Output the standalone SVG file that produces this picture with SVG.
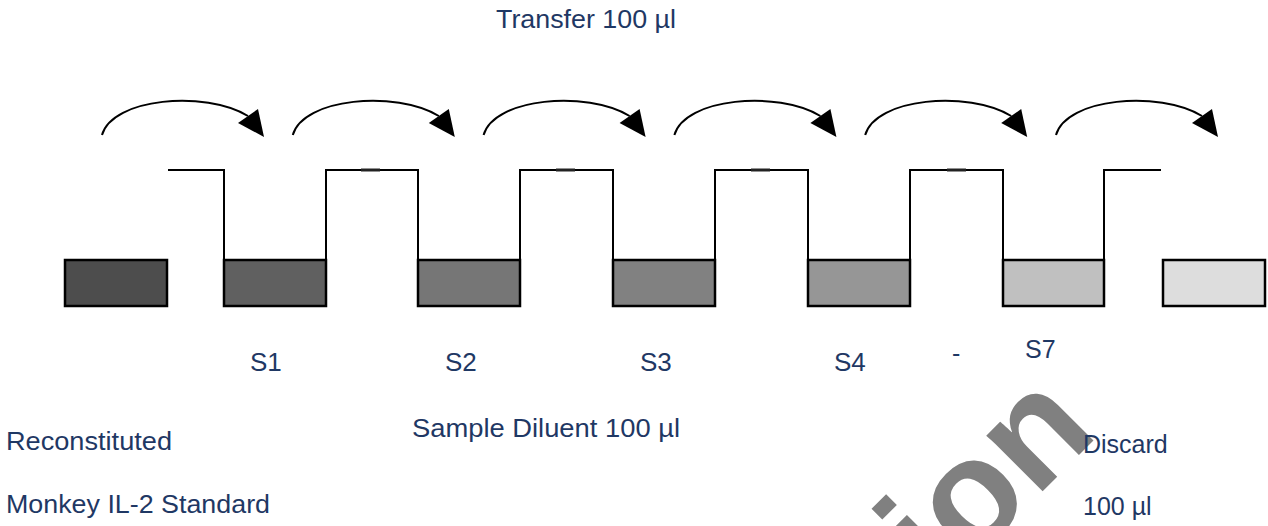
<svg xmlns="http://www.w3.org/2000/svg" xmlns:xlink="http://www.w3.org/1999/xlink" width="1268" height="526" viewBox="0 0 1268 526">
  <style>
    .lbl { font-family: "Liberation Sans", Arial, sans-serif; font-size: 25px; fill: #1f3864; }
    .wm { font-family: "Liberation Sans", Arial, sans-serif; font-size: 150px; font-weight: bold; fill: #808080; }
    .tube { stroke: #000; stroke-width: 2.5; }
    .step { fill: none; stroke: #000; stroke-width: 2; }
    .arc { fill: none; stroke: #000; stroke-width: 2; }
    .tick { stroke: #222; stroke-width: 3; }
  </style>
  <defs>
    <polygon id="head" points="264,137 238,123 258,109" fill="#000"/>
    <path id="curve" d="M102,135 C112,98 205,90 248,116" class="arc"/>
  </defs>
  <rect width="1268" height="526" fill="#fff"/>

  <text class="wm" transform="translate(941,593) rotate(-45)">ion</text>

  <g id="connectors">
    <path class="step" d="M168,170 H224 V260 M326,260 V170 H418 V260 M520,260 V170 H613 V260 M715,260 V170 H808 V260 M910,260 V170 H1003 V260 M1104,260 V170 H1161"/>
    <line class="tick" x1="361" y1="170" x2="380" y2="170"/>
    <line class="tick" x1="556" y1="170" x2="575" y2="170"/>
    <line class="tick" x1="751" y1="170" x2="770" y2="170"/>
    <line class="tick" x1="947" y1="170" x2="966" y2="170"/>
    <g id="arc1"><use xlink:href="#curve"/><use xlink:href="#head"/></g>
    <g id="arc2" transform="translate(190.8,0)"><use xlink:href="#curve"/><use xlink:href="#head"/></g>
    <g id="arc3" transform="translate(381.6,0)"><use xlink:href="#curve"/><use xlink:href="#head"/></g>
    <g id="arc4" transform="translate(572.4,0)"><use xlink:href="#curve"/><use xlink:href="#head"/></g>
    <g id="arc5" transform="translate(763.2,0)"><use xlink:href="#curve"/><use xlink:href="#head"/></g>
    <g id="arc6" transform="translate(954,0)"><use xlink:href="#curve"/><use xlink:href="#head"/></g>
  </g>

  <g id="standard"><rect class="tube" x="65" y="260" width="102" height="46" fill="#4d4d4d"/></g>
  <g id="s1"><rect class="tube" x="224" y="260" width="102" height="46" fill="#606060"/><text class="lbl" x="250" y="371" style="font-size:26px">S1</text></g>
  <g id="s2"><rect class="tube" x="418" y="260" width="102" height="46" fill="#767676"/><text class="lbl" x="445" y="371" style="font-size:26px">S2</text></g>
  <g id="s3"><rect class="tube" x="613" y="260" width="102" height="46" fill="#818181"/><text class="lbl" x="640" y="371" style="font-size:26px">S3</text></g>
  <g id="s4"><rect class="tube" x="808" y="260" width="102" height="46" fill="#969696"/><text class="lbl" x="834" y="371" style="font-size:26px">S4</text></g>
  <g id="s7"><rect class="tube" x="1003" y="260" width="101" height="46" fill="#c0c0c0"/><text class="lbl" x="952" y="362">-</text><text class="lbl" x="1025" y="358">S7</text></g>
  <g id="discard"><rect class="tube" x="1163" y="260" width="102" height="46" fill="#dddddd"/></g>

  <g id="labels">
    <text class="lbl" x="496" y="28" textLength="180" lengthAdjust="spacingAndGlyphs">Transfer 100 µl</text>
    <text class="lbl" x="412" y="437" textLength="268" lengthAdjust="spacingAndGlyphs">Sample Diluent 100 µl</text>
    <text class="lbl" x="6" y="450" textLength="166" lengthAdjust="spacingAndGlyphs">Reconstituted</text>
    <text class="lbl" x="6" y="513" textLength="264" lengthAdjust="spacingAndGlyphs">Monkey IL-2 Standard</text>
    <text class="lbl" x="1083" y="453">Discard</text>
    <text class="lbl" x="1083" y="515">100 µl</text>
  </g>
</svg>
